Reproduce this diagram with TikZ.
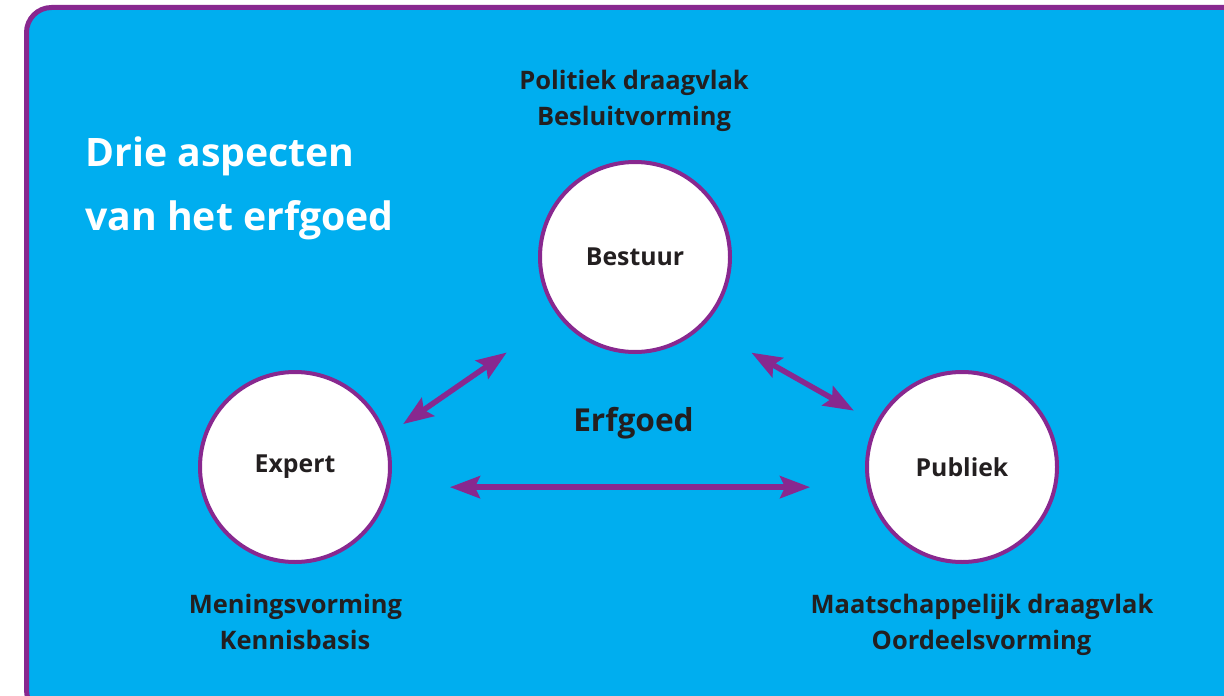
\documentclass[tikz,border=0pt]{standalone}
\usepackage{fontspec}
\setmainfont{Open Sans}
\usetikzlibrary{arrows.meta,positioning}
\definecolor{erfblue}{HTML}{00AEEF}
\definecolor{erfpurple}{HTML}{88288F}
\definecolor{erfdark}{HTML}{231F20}
\begin{document}
\begin{tikzpicture} [{aspect/.style={circle,draw=erfpurple,line width=0.08cm,fill=white,minimum size=3.8cm,inner sep=0mm,text=erfdark,font=\bfseries\fontsize{14.1}{17}\selectfont}},{caption/.style={text=erfdark,font=\bfseries\fontsize{14.5}{18}\selectfont,inner sep=0mm,anchor=base}},{link/.style={erfpurple,line width=0.11cm,{Stealth[length=6mm,width=4.4mm,inset=1mm]}-{Stealth[length=6mm,width=4.4mm,inset=1mm]}}}]
		\clip (0,0) rectangle (24.48,13.9);
		%%frame
		\draw [erfpurple,line width=0.1cm,fill=erfblue,rounded corners=5mm] (0.53,-0.4) rectangle (25.5,13.75);
		%%title
		\node at (1.7,10.57) [anchor=base west,inner sep=0mm,text=white,font=\bfseries\fontsize{22.3}{27}\selectfont] (title1) {Drie aspecten};
		\node at (1.7,9.3) [anchor=base west,inner sep=0mm,text=white,font=\bfseries\fontsize{22.3}{27}\selectfont] (title2) {van het erfgoed};
		%%aspects
		\node at (12.7,8.76) [aspect] (bst) {Bestuur};
		\node at (5.9,4.56) [aspect] (exp) {Expert};
		\node at (19.24,4.56) [aspect] (pub) {Publiek};
		\node at (12.67,5.27) [caption,font=\bfseries\fontsize{18}{22}\selectfont] (erf) {Erfgoed};
		%%captions
		\node at (12.68,12.11) [caption] (bst1) {Politiek draagvlak};
		\node at (12.68,11.39) [caption] (bst2) {Besluitvorming};
		\node at (5.91,1.633) [caption] (exp1) {Meningsvorming};
		\node at (5.9,0.913) [caption] (exp2) {Kennisbasis};
		\node at (19.64,1.633) [caption] (pub1) {Maatschappelijk draagvlak};
		\node at (19.63,0.913) [caption] (pub2) {Oordeelsvorming};
		%%arrows
		\draw [link,shorten <=4mm,shorten >=12.6mm] (exp.19) -- (bst.218);
		\draw [link,shorten <=11mm,shorten >=5mm] (bst.315) -- (pub.153);
		\draw [link,shorten <=12mm,shorten >=11.4mm] (exp.-12) -- (pub.192);
	\end{tikzpicture}
\end{document}
